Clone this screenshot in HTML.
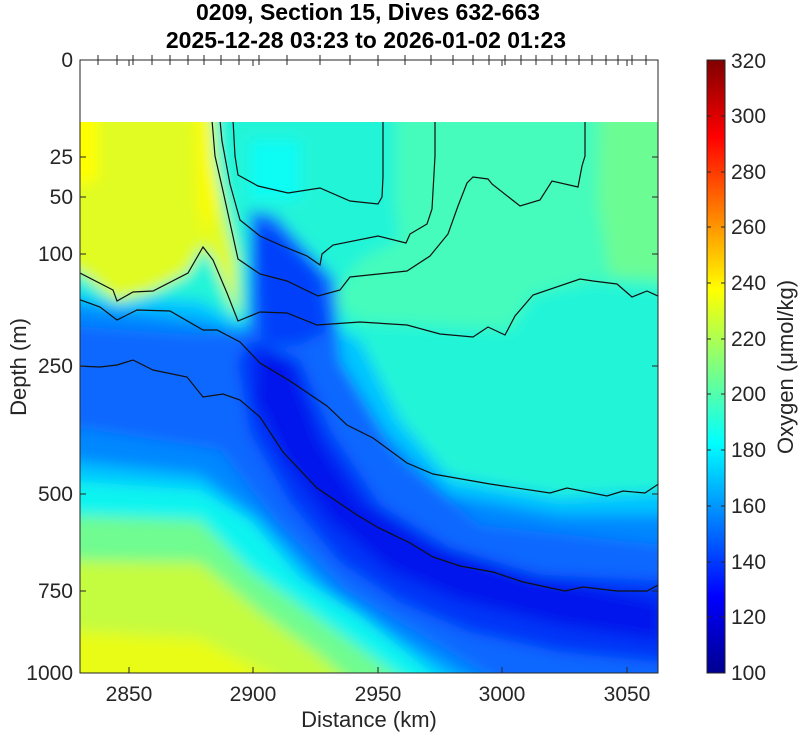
<!DOCTYPE html>
<html><head><meta charset="utf-8"><style>
html,body{margin:0;padding:0;background:#fff;}
svg{display:block;font-family:"Liberation Sans",sans-serif;}
</style></head><body>
<svg width="800" height="734" viewBox="0 0 800 734" xmlns="http://www.w3.org/2000/svg">
<defs>
<clipPath id="c"><rect x="80" y="122" width="578" height="551"/></clipPath>
<filter id="b" x="-10%" y="-10%" width="120%" height="120%"><feGaussianBlur stdDeviation="7"/></filter>
<linearGradient id="jet" x1="0" y1="1" x2="0" y2="0">
<stop offset="0" stop-color="#00008f"/><stop offset="0.125" stop-color="#0000ff"/>
<stop offset="0.375" stop-color="#00ffff"/><stop offset="0.625" stop-color="#ffff00"/>
<stop offset="0.875" stop-color="#ff0000"/><stop offset="1" stop-color="#800000"/>
</linearGradient>
</defs>
<g clip-path="url(#c)">
<g filter="url(#b)">
<rect x="60" y="100" width="630" height="600" fill="#24f4d8"/>
<polygon points="395,100 690,100 690,292 593,281 533,295 510,330 360,322 330,300 360,260 400,240 395,200" fill="#44fcbc"/>
<polygon points="600,100 690,100 690,280 610,275 598,200" fill="#6cfc94"/>
<polygon points="250,140 300,140 300,200 250,200" fill="#08fcf4"/>
<polygon points="60,100 212,100 215,160 223,200 236,260 238,318 227,293 213,260 203,247 188,273 153,291 117,301 80,272 60,272" fill="#e0fc20"/>
<polygon points="60,100 98,100 98,180 60,190" fill="#ffff00"/>
<polygon points="195,100 212,100 218,200 205,240 198,200" fill="#fcfc00"/>
<polygon points="60,285 117,305 153,298 200,300 238,322 340,330 360,340 400,420 450,478 560,497 690,490 690,700 470,700 380,640 300,590 240,530 200,510 60,495" fill="#00c4ff"/>
<polygon points="60,302 200,320 255,335 330,350 380,430 450,495 560,515 690,515 690,700 500,700 400,640 325,590 260,520 200,475 60,460" fill="#0088ff"/>
<polygon points="60,325 200,335 248,330 250,210 275,215 335,280 340,360 400,460 480,525 690,548 690,700 530,700 430,640 345,590 275,520 220,450 60,425" fill="#0868ff"/>
<polygon points="255,225 275,232 318,275 328,330 300,345 262,345" fill="#0040fa"/>
<polygon points="250,340 300,360 330,430 380,505 450,548 540,575 690,582 690,665 560,652 470,632 400,602 340,562 290,502 250,432 238,362" fill="#0036f8"/>
<polygon points="258,350 290,362 320,442 360,502 430,545 520,575 600,590 660,602 660,640 560,625 460,600 390,570 330,520 285,460 256,400" fill="#0018ec"/>
<polygon points="60,480 200,490 250,520 300,578 360,615 440,680 470,700 60,700" fill="#10f4f0"/>
<polygon points="60,515 200,520 250,570 300,605 370,655 430,700 60,700" fill="#70fc90"/>
<polygon points="60,560 200,562 260,612 320,655 370,700 60,700" fill="#c4fc40"/>
<polygon points="60,630 200,638 280,680 310,700 60,700" fill="#e8fc18"/>
</g>
<g fill="none" stroke="#111" stroke-width="1.2">
<polyline points="212,120 215,156 223,191 238,259 260,274 287,281 318,296 340,290 350,277 407,271 430,256 448,234 458,206 467,183 473,177 488,179 492,184 520,206 540,200 552,181 578,187 582,166 585,156 585,120"/>
<polyline points="220,120 222,141 230,184 240,220 260,236 280,245 307,256 320,265 322,254 333,245 378,236 406,243 410,234 427,224 432,209 435,156 435,120"/>
<polyline points="233,120 235,156 238,175 258,186 288,193 320,188 350,201 378,204 382,197 383,177 383,120"/>
<polyline points="78,272 113,290 117,301 133,292 153,291 188,273 203,247 213,260 227,293 238,321 260,312 287,313 317,325 360,322 407,325 440,334 473,337 488,327 505,335 515,316 533,295 580,279 593,281 617,284 632,297 647,291 660,297"/>
<polyline points="78,299 100,307 117,320 137,310 170,311 203,330 217,330 240,342 260,363 290,381 327,406 347,425 373,438 407,463 433,474 490,484 550,493 567,488 607,496 623,491 645,493 660,483"/>
<polyline points="78,366 100,367 117,365 133,360 153,370 187,377 203,397 223,394 240,400 260,417 283,452 317,488 357,515 377,527 410,543 433,557 460,566 493,572 523,582 565,591 583,587 617,591 647,591 660,584"/>
</g>
</g>
<g stroke="#262626" stroke-width="1" fill="none">
<rect x="80" y="60" width="578" height="613"/>
<path d="M98,55v10M117,55v10M133,55v10M152,55v10M170,55v10M188,55v10M204,55v10M221,55v10M239,55v10M259,55v10M287,55v10M320,55v10M350,55v10M378,55v10M405,55v10M431,55v10M453,55v10M473,55v10M489,55v10M505,55v10M521,55v10M536,55v10M552,55v10M566,55v10M579,55v10M592,55v10M606,55v10M618,55v10M632,55v10M646,55v10"/>
<path d="M129,673v-6M253,673v-6M378,673v-6M502,673v-6M627,673v-6M129,60v6M253,60v6M378,60v6M502,60v6M627,60v6"/>
<path d="M80,157h6M80,197h6M80,254h6M80,366h6M80,494h6M80,591h6M658,157h-6M658,197h-6M658,254h-6M658,366h-6M658,494h-6M658,591h-6"/>
</g>
<g font-size="21" fill="#262626" text-anchor="end">
<text x="73" y="67">0</text><text x="73" y="164">25</text><text x="73" y="204">50</text>
<text x="73" y="261">100</text><text x="73" y="373">250</text><text x="73" y="501">500</text>
<text x="73" y="598">750</text><text x="73" y="680">1000</text>
</g>
<g font-size="21" fill="#262626" text-anchor="middle">
<text x="129" y="701">2850</text><text x="253" y="701">2900</text><text x="378" y="701">2950</text>
<text x="502" y="701">3000</text><text x="627" y="701">3050</text>
<text x="369" y="727" font-size="22">Distance (km)</text>
<text transform="translate(26,367) rotate(-90)" font-size="22">Depth (m)</text>
</g>
<g font-size="23" font-weight="bold" fill="#000" text-anchor="middle">
<text x="368" y="20">0209, Section 15, Dives 632-663</text>
<text x="366" y="48">2025-12-28 03:23 to 2026-01-02 01:23</text>
</g>
<rect x="707" y="60" width="18" height="613" fill="url(#jet)" stroke="#262626" stroke-width="1"/>
<g stroke="#262626" stroke-width="1">
<path d="M707,116h4M725,116h-4M707,172h4M725,172h-4M707,227h4M725,227h-4M707,283h4M725,283h-4M707,339h4M725,339h-4M707,394h4M725,394h-4M707,450h4M725,450h-4M707,506h4M725,506h-4M707,562h4M725,562h-4M707,617h4M725,617h-4"/>
</g>
<g font-size="21" fill="#262626">
<text x="731" y="68">320</text><text x="731" y="123">300</text><text x="731" y="179">280</text>
<text x="731" y="234">260</text><text x="731" y="290">240</text><text x="731" y="346">220</text>
<text x="731" y="401">200</text><text x="731" y="457">180</text><text x="731" y="513">160</text>
<text x="731" y="569">140</text><text x="731" y="624">120</text><text x="731" y="680">100</text>
<text transform="translate(793,367) rotate(-90)" font-size="22" text-anchor="middle">Oxygen (μmol/kg)</text>
</g>
</svg>
</body></html>
